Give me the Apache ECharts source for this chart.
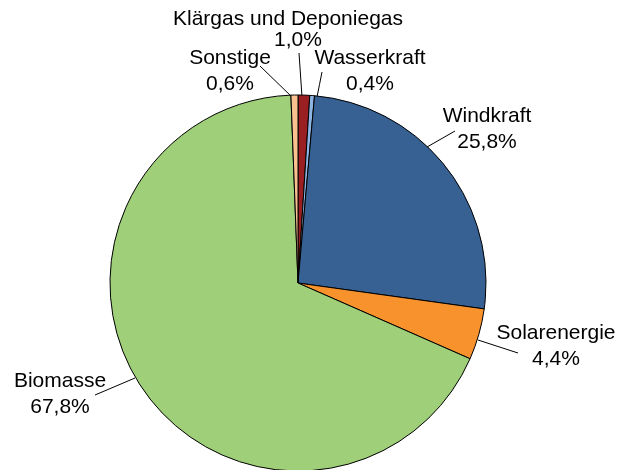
<!DOCTYPE html>
<html>
<head>
<meta charset="utf-8">
<script src="https://cdn.jsdelivr.net/npm/echarts@6/dist/echarts.min.js"></script>
<style>
  html, body { margin: 0; padding: 0; background: #fff; }
  #main { width: 620px; height: 470px; }
</style>
</head>
<body>
<div id="main"></div>
<script>
var chart = echarts.init(document.getElementById('main'));

// Anteile in Prozent, Reihenfolge im Uhrzeigersinn ab 12 Uhr
var names = ['Klärgas und Deponiegas', 'Wasserkraft', 'Windkraft', 'Solarenergie', 'Biomasse', 'Sonstige'];
var values = [1.0, 0.4, 25.8, 4.4, 67.8, 0.6];
var colors = ['#9a1f22', '#8db4e2', '#386193', '#f7922d', '#9fcf78', '#fac08f'];

// Label-Mittelpunkte und Führungslinien (im Original manuell gesetzt)
var labelPos = [[288, 30], [370, 71], [487, 129], [556, 346], [60, 394], [230, 71]];
var leaderFrom = [[302, 97], [317, 97], [427, 147], [478, 340], [135, 378], [292, 97]];
var leaderTo = [[299, 53], [322, 72], [455, 131], [518, 353], [95, 395], [260, 66]];

function fmt(v) {
    return v.toFixed(1).replace('.', ',') + '%';
}

var font = 'Liberation Sans, Arial';

var option = {
    animation: false,
    series: [{
        type: 'pie',
        center: [298, 283],
        radius: 188,
        startAngle: 90,
        clockwise: true,
        itemStyle: { borderColor: '#000', borderWidth: 1 },
        label: {
            show: true,
            color: '#000',
            fontFamily: font,
            fontSize: 21,
            lineHeight: 26,
            align: 'center',
            overflow: 'none',
            edgeDistance: 0,
            formatter: function (p) {
                if (p.dataIndex === 0) return '{a|' + p.name + '}\n{b|' + fmt(p.value) + '}';
                return p.name + '\n' + fmt(p.value);
            },
            rich: {
                a: { fontSize: 21, lineHeight: 21, fontFamily: font, color: '#000' },
                b: { fontSize: 21, lineHeight: 21, fontFamily: font, color: '#000', padding: [0, 0, 0, 20] }
            }
        },
        labelLine: { show: true, lineStyle: { color: '#000', width: 1 }, length: 10, length2: 0 },
        labelLayout: function (p) {
            var i = p.dataIndex;
            var a = leaderFrom[i], b = leaderTo[i];
            return {
                x: labelPos[i][0], y: labelPos[i][1], align: 'center', verticalAlign: 'middle',
                labelLinePoints: [a, [(a[0] + b[0]) / 2, (a[1] + b[1]) / 2], b]
            };
        },
        data: names.map(function (n, i) {
            return { name: n, value: values[i], itemStyle: { color: colors[i] } };
        })
    }]
};
chart.setOption(option);
</script>
</body>
</html>
